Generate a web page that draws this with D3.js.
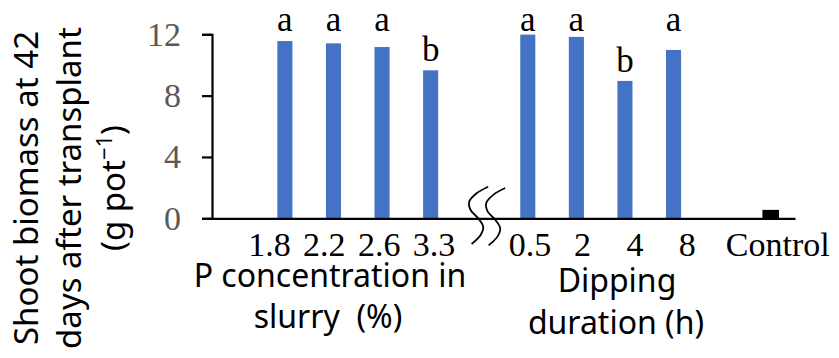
<!DOCTYPE html>
<html>
<head>
<meta charset="utf-8">
<script src="https://cdn.jsdelivr.net/npm/d3@7"></script>
<style>
  body { margin: 0; background: #fff; }
  .serif { font-family: "Liberation Serif", "Times New Roman", serif; }
  .sans { font-family: "Noto Sans", sans-serif; }
</style>
</head>
<body>
<div id="chart"></div>
<script>
// values
const pCategories = ["1.8", "2.2", "2.6", "3.3"];
const pValues = [11.56, 11.41, 11.17, 9.65];
const pLetters = ["a", "a", "a", "b"];

const dipCategories = ["0.5", "2", "4", "8"];
const dipValues = [11.98, 11.83, 8.96, 10.98];
const dipLetters = ["a", "a", "b", "a"];

const controlCategory = "Control";
const controlValue = 0.5;

const yTicks = [0, 4, 8, 12];

const width = 839, height = 358;
const plot = { left: 212, right: 795, top: 34.3, bottom: 218.3 };

// slots on the x axis: empty lead, P group, break, dipping group, empty, control
const slots = ["_lead", ...pCategories, "_break", ...dipCategories, "_gap", controlCategory];

const bars = [
  ...pCategories.map((c, i) => ({ cat: c, value: pValues[i], letter: pLetters[i], fill: "#4472C4" })),
  ...dipCategories.map((c, i) => ({ cat: c, value: dipValues[i], letter: dipLetters[i], fill: "#4472C4" })),
  { cat: controlCategory, value: controlValue, letter: "", fill: "#000" }
];

const svg = d3.select("#chart")
  .append("svg")
  .attr("width", width)
  .attr("height", height);

const x = d3.scaleBand()
  .domain(slots)
  .range([plot.left, plot.right])
  .padding(0);

const y = d3.scaleLinear()
  .domain([0, 12])
  .range([plot.bottom, plot.top]);

const barW = x.bandwidth() * 0.31;
const cx = c => x(c) + x.bandwidth() / 2;

// bars
svg.append("g")
  .selectAll("rect")
  .data(bars)
  .join("rect")
  .attr("x", d => cx(d.cat) - barW / 2)
  .attr("y", d => y(d.value))
  .attr("width", barW)
  .attr("height", d => y(0) - y(d.value))
  .attr("fill", d => d.fill)
  .attr("stroke", d => d.fill === "#000" ? "#000" : "none")
  .attr("stroke-width", 1.5);

// significance letters: the tall bars share one row, shorter ones sit on their bar
svg.append("g")
  .attr("class", "serif")
  .selectAll("text")
  .data(bars.filter(d => d.letter))
  .join("text")
  .attr("x", d => cx(d.cat))
  .attr("y", d => d.value > 10 ? y(12.2) : y(d.value) - 9)
  .attr("text-anchor", "middle")
  .attr("font-size", 35)
  .attr("fill", "#000")
  .text(d => d.letter);

// x axis
const xAxis = svg.append("g")
  .attr("transform", `translate(0,${plot.bottom})`)
  .call(d3.axisBottom(x).tickSize(0).tickPadding(14)
    .tickFormat(d => d.startsWith("_") ? "" : d));
xAxis.select(".domain").attr("stroke", "#000").attr("stroke-width", 2.2);

// the labels in each group are spread a little wider than the bars, as in the figure
function groupShift(cats, spread, shift) {
  const mid = (cx(cats[0]) + cx(cats[cats.length - 1])) / 2;
  return c => mid + (cx(c) - mid) * spread + shift - cx(c);
}
const pShift = groupShift(pCategories, 1.13, -6);
const dipShift = groupShift(dipCategories, 1.08, 8);
xAxis.selectAll(".tick text")
  .attr("class", "serif")
  .attr("font-size", 34)
  .attr("fill", "#000")
  .attr("dx", d => pCategories.includes(d) ? pShift(d)
    : dipCategories.includes(d) ? dipShift(d)
    : d === controlCategory ? 7 : 0);

// y axis
const yAxis = svg.append("g")
  .attr("transform", `translate(${plot.left},0)`)
  .call(d3.axisLeft(y).tickValues(yTicks).tickSize(10).tickPadding(21));
yAxis.select(".domain").attr("stroke", "#000").attr("stroke-width", 2.2);
yAxis.selectAll(".tick line").attr("stroke", "#000").attr("stroke-width", 2.2);
yAxis.selectAll("text")
  .attr("class", "serif")
  .attr("font-size", 34)
  .attr("fill", "#595959");

// axis break marks on the x axis
const breakPts = [[9, -31.6], [-2.6, -25], [-10, -16.6], [-8.6, -8.3], [-1, 0], [4, 8.4], [1.4, 16.7], [-7.6, 25.7]];
const breakLine = d3.line().curve(d3.curveCatmullRom);
const bx = cx("_break");
[0, 17].forEach(off => {
  svg.append("path")
    .attr("d", breakLine(breakPts.map(p => [bx + off + p[0], plot.bottom + p[1] + off * 0.08])))
    .attr("fill", "none")
    .attr("stroke", "#000")
    .attr("stroke-width", 1.8);
});

// y title, three rotated lines
const yTitle = svg.append("g")
  .attr("class", "sans")
  .attr("transform", "translate(0,188) rotate(-90)")
  .attr("font-size", 33)
  .attr("fill", "#000")
  .attr("text-anchor", "middle");
yTitle.append("text").attr("y", 38).text("Shoot biomass at 42");
yTitle.append("text").attr("y", 81).text("days after transplant");
const unit = yTitle.append("text").attr("y", 125);
unit.append("tspan").text("(g pot");
unit.append("tspan").attr("font-size", 22).attr("dy", -13).text("\u22121");
unit.append("tspan").attr("dy", 13).text(")");

// group titles
const groupTitles = svg.append("g")
  .attr("class", "sans")
  .attr("font-size", 32)
  .attr("fill", "#000")
  .attr("text-anchor", "middle");
groupTitles.append("text").attr("x", 330).attr("y", 287).text("P concentration in");
groupTitles.append("text").attr("x", 328).attr("y", 328).text("slurry\u00a0 (%)");
groupTitles.append("text").attr("x", 617).attr("y", 292).text("Dipping");
groupTitles.append("text").attr("x", 616).attr("y", 334).text("duration (h)");
</script>
</body>
</html>
